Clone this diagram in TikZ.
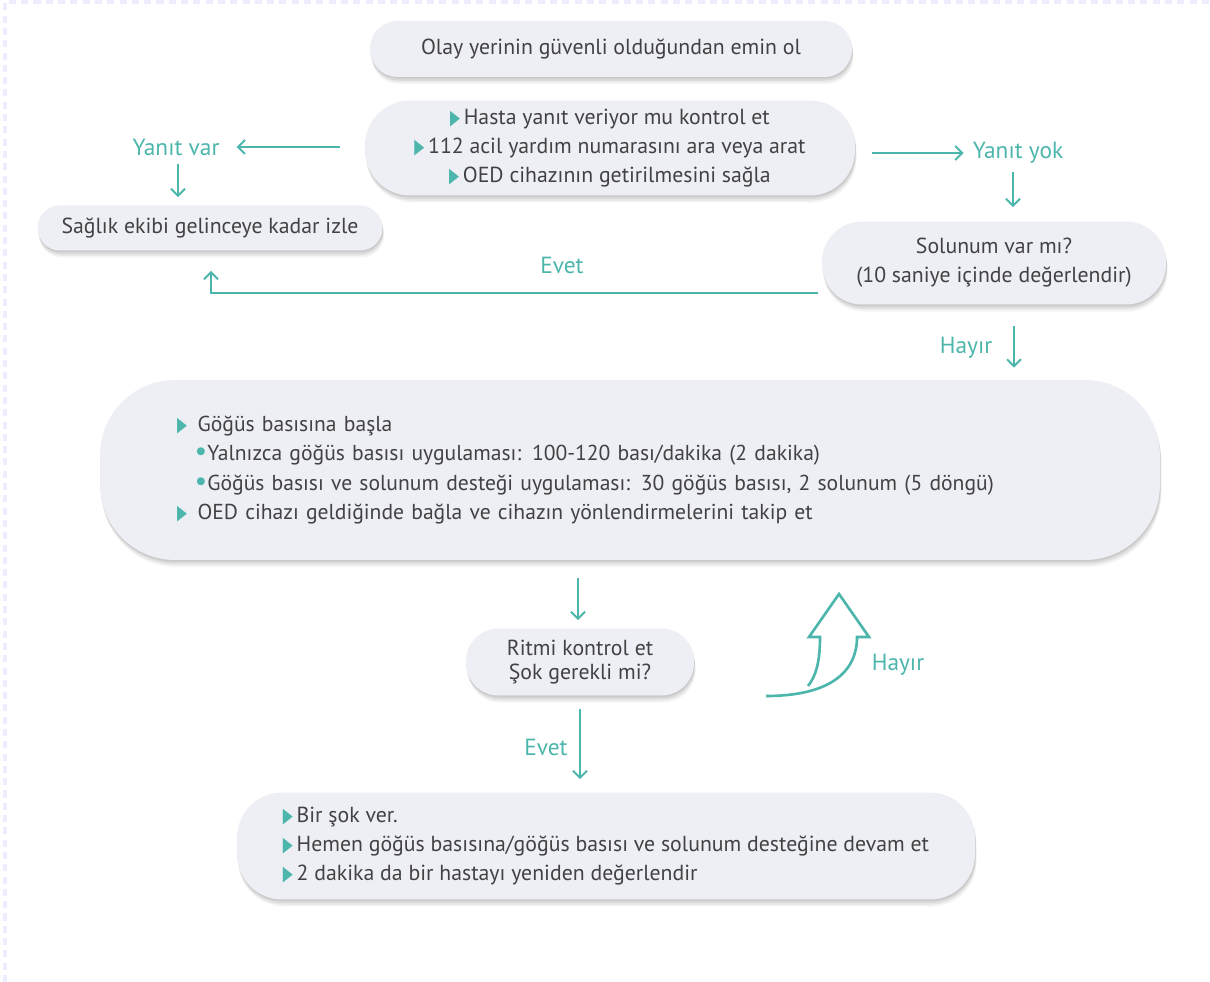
\documentclass[tikz,border=0pt]{standalone}
\usepackage{fontspec}
\setmainfont{PT Sans}
\newfontfamily\djv{DejaVu Sans}
\usetikzlibrary{shadows,calc,arrows.meta}
\definecolor{tl}{RGB}{77,182,172}
\definecolor{txt}{RGB}{66,66,68}
\definecolor{boxf}{RGB}{238,239,244}
\newcommand\tri{\textcolor{tl}{\scalebox{0.6}[0.95]{\djv ▶}}}
\newcommand\dotb{\textcolor{tl}{\scalebox{1.3}{\textbullet}}}
\begin{document}
\begin{tikzpicture}[x=0.02cm,y=-0.02cm,
  box/.style={fill=boxf, draw=none, text=txt, font=\fontsize{12.4}{16.5}\selectfont,
    drop shadow={shadow xshift=0.3pt,shadow yshift=-1pt,opacity=0.07,fill=black},
    drop shadow={shadow xshift=0.5pt,shadow yshift=-2pt,opacity=0.06,fill=black},
    drop shadow={shadow xshift=0.7pt,shadow yshift=-3pt,opacity=0.05,fill=black},
    drop shadow={shadow xshift=0.9pt,shadow yshift=-4pt,opacity=0.04,fill=black},
    inner sep=0pt},
  lbl/.style={text=tl, font=\fontsize{13.3}{15}\selectfont, inner sep=1pt},
  arr/.style={draw=tl, line width=1.1pt, -{Straight Barb[length=4pt,width=8pt]}}]
\useasboundingbox (0,0) rectangle (1210,982);
\fill[white] (0,0) rectangle (1210,982);
\draw[blue!7, line width=2.5pt, dash pattern=on 4pt off 3pt] (5,982) -- (5,2) -- (1210,2);

% nodes
\node[box, minimum width=9.64cm, minimum height=1.12cm, rounded corners=0.55cm] (top) at (611,49)
  {Olay yerinin güvenli olduğundan emin ol};
\node[box, minimum width=9.8cm, minimum height=1.9cm, rounded corners=0.9cm, align=center] (chk) at (610,148)
  {\tri\,Hasta yanıt veriyor mu kontrol et\\ \tri\,112 acil yardım numarasını ara veya arat\\ \tri\,OED cihazının getirilmesini sağla};
\node[box, minimum width=6.9cm, minimum height=0.9cm, rounded corners=0.45cm] (sag) at (210,228)
  {Sağlık ekibi gelinceye kadar izle};
\node[box, minimum width=6.88cm, minimum height=1.66cm, rounded corners=0.8cm, align=center] (sol) at (994,263)
  {Solunum var mı?\\(10 saniye içinde değerlendir)};
\node[box, minimum height=3.6cm, rounded corners=1.5cm, text width=18.12cm, inner xsep=1.54cm, align=left,
  font=\fontsize{12.3}{16.8}\selectfont] (big) at (630,470)
  {\tri\hspace{6pt}Göğüs basısına başla\\
   \hspace{10pt}\dotb Yalnızca göğüs basısı uygulaması: 100-120 bası/dakika (2 dakika)\\
   \hspace{10pt}\dotb Göğüs basısı ve solunum desteği uygulaması: 30 göğüs basısı, 2 solunum (5 döngü)\\
   \tri\hspace{6pt}OED cihazı geldiğinde bağla ve cihazın yönlendirmelerini takip et};
\node[box, minimum width=4.56cm, minimum height=1.34cm, rounded corners=0.65cm, align=center,
  font=\fontsize{12.4}{14}\selectfont] (rit) at (580,662)
  {Ritmi kontrol et\\Şok gerekli mi?};
\node[box, minimum width=14.76cm, minimum height=2.14cm, rounded corners=0.9cm, align=left] (bot) at (606,846)
  {\tri\,Bir şok ver.\\ \tri\,Hemen göğüs basısına/göğüs basısı ve solunum desteğine devam et\\ \tri\,2 dakika da bir hastayı yeniden değerlendir};

% labels
\node[lbl] (yv) at (176,147) {Yanıt var};
\node[lbl] (yy) at (1018,153) {Yanıt yok};
\node[lbl] (ev1) at (562,265) {Evet};
\node[lbl] (hy1) at (966,348) {Hayır};
\node[lbl] (hy2) at (898,665) {Hayır};
\node[lbl] (ev2) at (546,747) {Evet};

% connector end points
\coordinate (a1) at (178,164);
\coordinate (a2) at (1013,172);
\coordinate (a3) at (818,293);
\coordinate (a4) at (211,293);
\coordinate (a5) at (1014,326);

% connectors
\draw[arr, shorten <=0.5cm, shorten >=0.3cm] (chk.west |- yv.east) -- (yv.east);
\draw[arr, shorten >=0.16cm] (a1) -- (a1 |- sag.north);
\draw[arr, shorten <=0.34cm, shorten >=0.14cm] (chk.east |- yy.west) -- (yy.west);
\draw[arr, shorten >=0.28cm] (a2) -- (a2 |- sol.north);
\draw[arr, shorten >=0.4cm] (a3) -- (a4) -- (a4 |- sag.south);
\draw[arr, shorten >=0.24cm] (a5) -- (a5 |- big.north);
\draw[arr, shorten <=0.36cm, shorten >=0.16cm] ($(big.south -| rit.north)+(-2,0)$) -- ($(rit.north)+(-2,0)$);
\draw[arr, shorten <=0.26cm, shorten >=0.26cm] (rit.south) -- (rit.south |- bot.north);

% hollow curved arrow (Hayır loop)
\draw[tl, line width=1.5pt, line join=miter]
  (766,696) .. controls (830,696) and (857,672) .. (857,637) -- (869,637) -- (839,594)
  -- (809,637) -- (820,637) .. controls (820,662) and (816,676) .. (808,686);
\end{tikzpicture}
\end{document}
